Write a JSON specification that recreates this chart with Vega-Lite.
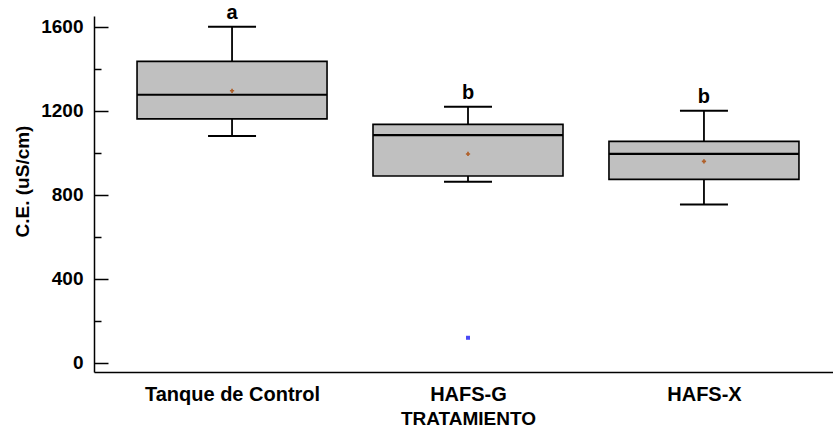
{
  "$schema": "https://vega.github.io/schema/vega-lite/v6.json",
  "autosize": "none",
  "width": 739,
  "height": 356,
  "padding": {"left": 94, "top": 16, "right": 0, "bottom": 55},
  "background": "white",
  "config": {
    "view": {"stroke": null},
    "font": "Liberation Sans",
    "axis": {
      "labelFont": "Liberation Sans",
      "labelFontWeight": "bold",
      "labelFontSize": 19,
      "labelColor": "black",
      "titleFont": "Liberation Sans",
      "titleFontWeight": "bold",
      "titleFontSize": 19,
      "titleColor": "black",
      "domainColor": "black",
      "domainWidth": 1.5,
      "tickColor": "black",
      "tickWidth": 1.5,
      "grid": false
    }
  },
  "datasets": {
    "boxes": [
      {"trt": "Tanque de Control", "lower": 1079, "q1": 1160, "median": 1275, "q3": 1434, "upper": 1599, "mean": 1294, "letter": "a"},
      {"trt": "HAFS-G", "lower": 861, "q1": 888, "median": 1083, "q3": 1134, "upper": 1218, "mean": 993, "letter": "b"},
      {"trt": "HAFS-X", "lower": 753, "q1": 872, "median": 994, "q3": 1053, "upper": 1199, "mean": 958, "letter": "b"}
    ],
    "outliers": [
      {"trt": "HAFS-G", "value": 118}
    ]
  },
  "encoding": {
    "x": {
      "field": "trt",
      "type": "nominal",
      "sort": ["Tanque de Control", "HAFS-G", "HAFS-X"],
      "scale": {"type": "point", "range": [0, 748], "padding": 0.585},
      "axis": {"title": "TRATAMIENTO", "ticks": false, "labelAngle": 0, "labelFontSize": 20, "labelPadding": 12, "titlePadding": 5}
    }
  },
  "layer": [
    {
      "data": {"name": "boxes"},
      "mark": {"type": "rule", "color": "black", "strokeWidth": 1.8},
      "encoding": {
        "y": {
          "field": "lower",
          "type": "quantitative",
          "scale": {"domain": [-45, 1650], "nice": false, "zero": false},
          "axis": {
            "title": "C.E. (uS/cm)",
            "values": [0, 100, 200, 300, 400, 500, 600, 700, 800, 900, 1000, 1100, 1200, 1300, 1400, 1500, 1600],
            "labelExpr": "datum.value % 400 === 0 ? datum.label : ''",
            "format": "d",
            "tickSize": {"condition": {"test": "datum.value % 400 === 0", "value": -14}, "value": -7},
            "labelPadding": 25,
            "titleX": -72,
            "titleY": 165,
            "titleAngle": -90,
            "titleAlign": "center",
            "titleBaseline": "middle"
          }
        },
        "y2": {"field": "upper"}
      }
    },
    {
      "data": {"name": "boxes"},
      "mark": {"type": "bar", "size": 190, "fill": "#c0c0c0", "stroke": "black", "strokeWidth": 1.6},
      "encoding": {
        "y": {"field": "q1", "type": "quantitative"},
        "y2": {"field": "q3"}
      }
    },
    {
      "data": {"name": "boxes"},
      "mark": {"type": "tick", "size": 190, "thickness": 2.2, "color": "black", "opacity": 1},
      "encoding": {"y": {"field": "median", "type": "quantitative"}}
    },
    {
      "data": {"name": "boxes"},
      "mark": {"type": "tick", "size": 48, "thickness": 2, "color": "black", "opacity": 1},
      "encoding": {"y": {"field": "upper", "type": "quantitative"}}
    },
    {
      "data": {"name": "boxes"},
      "mark": {"type": "tick", "size": 48, "thickness": 2, "color": "black", "opacity": 1},
      "encoding": {"y": {"field": "lower", "type": "quantitative"}}
    },
    {
      "data": {"name": "boxes"},
      "mark": {"type": "point", "shape": "cross", "size": 18, "filled": true, "color": "#b0602a", "opacity": 1},
      "encoding": {"y": {"field": "mean", "type": "quantitative"}}
    },
    {
      "data": {"name": "boxes"},
      "mark": {"type": "text", "baseline": "bottom", "dy": -4, "fontSize": 20, "fontWeight": "bold", "font": "Liberation Sans", "color": "black"},
      "encoding": {
        "y": {"field": "upper", "type": "quantitative"},
        "text": {"field": "letter"}
      }
    },
    {
      "data": {"name": "outliers"},
      "mark": {"type": "point", "shape": "square", "size": 16, "filled": true, "color": "#4a4af5", "opacity": 1},
      "encoding": {
        "x": {"field": "trt", "type": "nominal", "sort": ["Tanque de Control", "HAFS-G", "HAFS-X"]},
        "y": {"field": "value", "type": "quantitative"}
      }
    }
  ]
}
